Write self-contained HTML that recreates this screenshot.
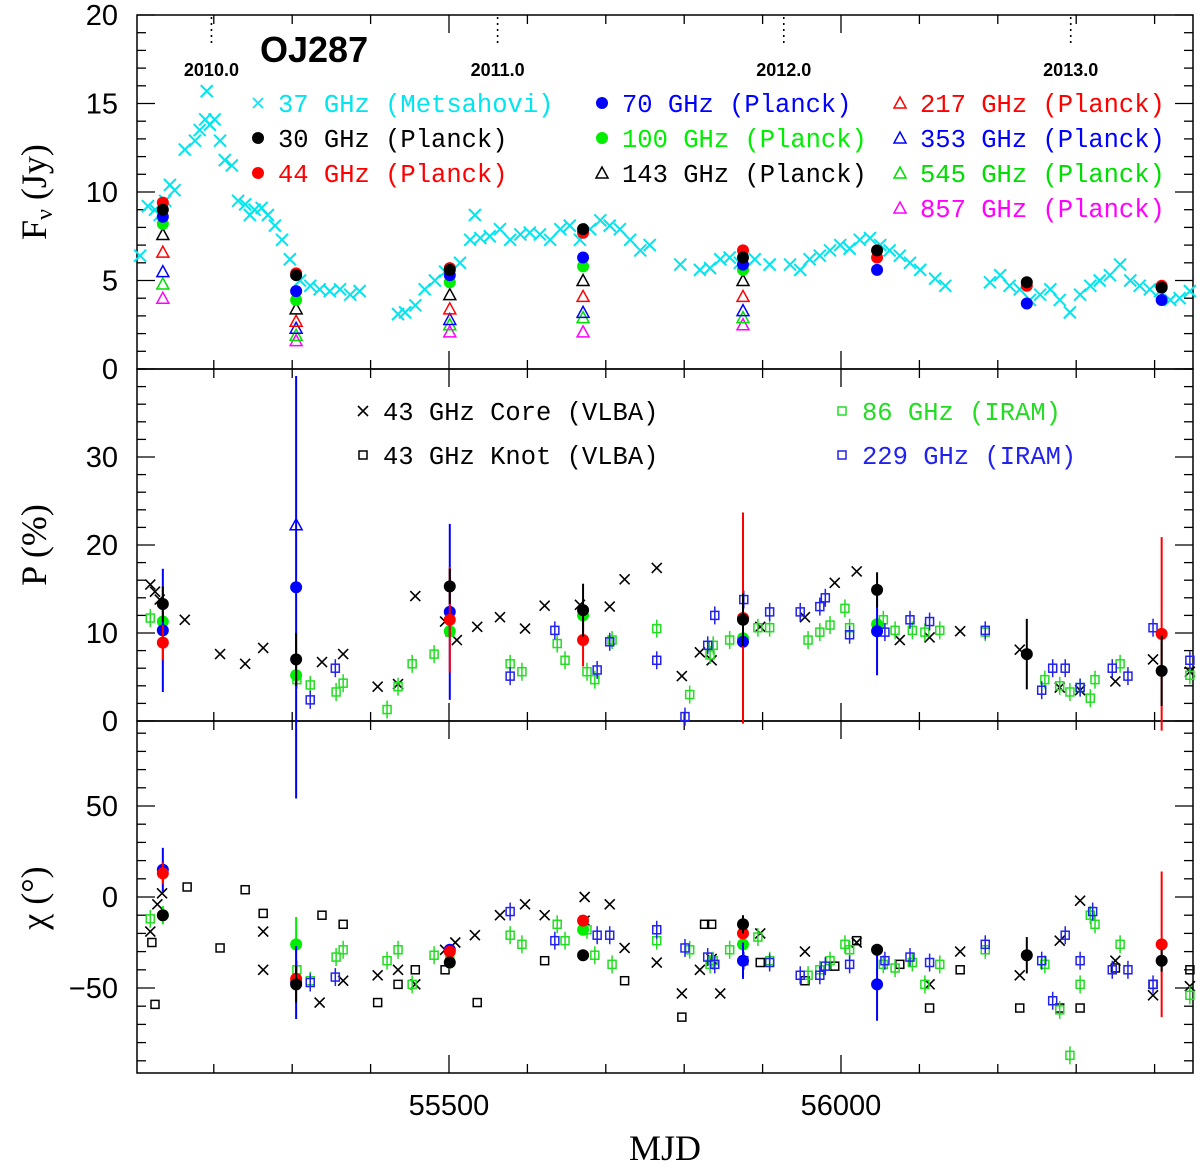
<!DOCTYPE html>
<html><head><meta charset="utf-8"><style>
html,body{margin:0;padding:0;background:#fff}
svg{display:block}
.tk{font-family:"Liberation Sans",sans-serif;font-size:29px;fill:#000}
.lg{font-family:"Liberation Mono",monospace;font-size:25.5px}
.ax{font-family:"Liberation Serif",serif;font-size:36px;fill:#000}
</style></head><body>
<svg id="chart" width="1200" height="1168" xmlns="http://www.w3.org/2000/svg"></svg>
<script>
// ---- data ----
const metsMjd=[55106,55116,55125,55131,55138,55144,55150,55163,55176,55182,55189,55191,55195,55201,55208,55214,55223,55231,55240,55246,55252,55261,55269,55278,55287,55297,55310,55323,55335,55348,55361,55374,55386,55435,55444,55457,55469,55482,55495,55514,55527,55533,55540,55552,55565,55578,55591,55603,55616,55629,55642,55654,55667,55680,55693,55705,55718,55731,55744,55756,55795,55820,55833,55846,55858,55871,55890,55909,55935,55948,55960,55973,55986,55999,56011,56024,56037,56050,56062,56075,56088,56101,56120,56133,56190,56203,56215,56228,56241,56254,56267,56279,56292,56305,56318,56330,56343,56356,56369,56381,56394,56407,56420,56432,56445];
const metsFlux=[6.4,9.2,9.0,8.7,9.5,10.4,10.1,12.4,12.9,13.5,14.1,15.7,13.8,14.1,12.9,11.8,11.5,9.5,9.3,8.7,9.0,9.1,8.7,8.1,7.3,6.2,5.0,4.7,4.5,4.4,4.5,4.2,4.4,3.1,3.2,3.6,4.5,5.0,5.5,6.0,7.3,8.7,7.4,7.5,7.9,7.3,7.6,7.7,7.6,7.3,7.9,8.1,7.3,7.9,8.4,8.1,7.9,7.3,6.7,7.0,5.9,5.6,5.7,6.2,6.3,6.0,6.2,5.9,5.9,5.6,6.2,6.4,6.7,7.0,6.8,7.3,7.4,7.0,6.7,6.4,6.0,5.6,5.1,4.7,4.9,5.3,4.7,4.5,3.9,4.2,4.5,3.9,3.2,4.2,4.7,5.0,5.3,5.9,5.0,4.7,4.5,4.4,3.9,4.0,4.4];
const epochMjd=[55135,55305,55501,55671,55875,56046,56237,56409];
const f30=[9.0,5.3,5.6,7.9,6.3,6.7,4.9,4.6];
const f44=[9.4,5.4,5.7,7.7,6.7,6.3,4.7,4.7];
const f70=[8.6,4.4,5.3,6.3,5.9,5.6,3.7,3.9];
const f100=[8.2,3.9,4.9,5.8,5.6,null,null,null];
const f143=[7.6,3.4,4.2,5.0,5.0,null,null,null];
const f217=[6.6,2.7,3.4,4.1,4.1,null,null,null];
const f353=[5.5,2.3,2.8,3.2,3.3,null,null,null];
const f545=[4.8,1.9,2.5,2.9,2.9,null,null,null];
const f857=[4.0,1.6,2.1,2.1,2.5,null,null,null];
// polarization degree
const coreMjdP=[55119,55125,55131,55163,55208,55240,55263,55338,55365,55409,55435,55457,55495,55510,55536,55565,55597,55622,55667,55705,55724,55765,55797,55820,55835,55897,55954,55992,56020,56075,56113,56152,56228,56279,56305,56350,56398,56445];
const coreP=[15.5,14.7,13.8,11.5,7.6,6.5,8.3,6.7,7.6,3.9,4.2,14.2,11.3,9.2,10.7,11.8,10.5,13.1,13.2,13.0,16.1,17.4,5.1,7.8,6.9,10.7,11.8,15.7,17.0,9.2,9.5,10.2,8.1,3.8,3.5,4.5,7.0,5.6];
const g86Mjd=[55119,55306,55323,55356,55365,55421,55435,55453,55481,55501,55578,55593,55638,55648,55676,55686,55708,55765,55807,55833,55837,55858,55894,55909,55958,55973,55986,56005,56011,56054,56069,56091,56107,56126,56184,56260,56279,56292,56305,56318,56324,56356,56445];
const g86P=[11.7,4.7,4.1,3.3,4.3,1.3,3.9,6.5,7.6,10.1,6.5,5.6,8.8,6.9,5.6,4.7,9.2,10.5,3.0,7.5,8.6,9.2,10.6,10.6,9.2,10.1,10.9,12.8,10.6,11.5,10.3,10.3,10.1,10.3,10.1,4.7,4.0,3.3,3.8,2.6,4.7,6.5,5.2];
const b229Mjd=[55323,55355,55578,55635,55689,55705,55765,55801,55830,55839,55876,55909,55948,55973,55980,56011,56056,56088,56113,56184,56256,56270,56286,56305,56346,56366,56398,56445];
const b229P=[2.4,6.0,5.1,10.3,5.8,9.0,6.9,0.5,8.6,12.0,13.8,12.4,12.4,13.0,14.0,9.8,10.1,11.5,11.3,10.3,3.5,6.0,6.0,3.8,6.0,5.1,10.6,6.9];
const p30=[13.3,7.0,15.3,12.6,11.5,14.9,7.6,5.7];
const p44=[8.9,null,11.5,9.2,11.7,null,null,9.9];
const p44e=[2,null,6,3,12,null,null,11];
const p70=[10.3,15.2,12.4,null,9.0,10.2,null,null];
const p70e=[7,24,10,null,4,5,null,null];
const p100=[11.3,5.2,10.2,12.0,9.4,11.0,null,null];
const p353tri=[null,22.3,null,null,null,null,null,null];
// polarization angle
const coreMjdX=[55119,55128,55134,55263,55263,55335,55365,55409,55435,55457,55495,55508,55533,55565,55597,55622,55673,55673,55705,55724,55765,55797,55820,55835,55846,55897,55954,56020,56113,56152,56228,56279,56305,56350,56398,56445];
const coreChi=[-19,-4,2,-40,-19,-58,-46,-43,-40,-48,-29,-25,-21,-10,-4,-10,0,-13,-4,-28,-36,-53,-40,-34,-53,-20,-30,-25,-48,-30,-43,-24,-2,-35,-54,-49];
const knotMjd=[55125,55121,55166,55208,55240,55263,55338,55365,55409,55435,55457,55495,55536,55622,55724,55797,55826,55835,55897,55954,55992,56020,56075,56113,56152,56228,56279,56305,56350,56398,56445];
const knotChi=[-59,-25,5.5,-28,4,-9,-10,-15,-58,-48,-40,-40,-58,-35,-46,-66,-15,-15,-36,-46,-38,-24,-37,-61,-40,-61,-61,-61,-39,-48,-40];
const g86Chi=[-12,-40,-46,-33,-29,-35,-29,-48,-32,-35,-21,-26,-15,-24,-18,-32,-37,-24,-29,-37,-35,-29,-22,-35,-43,-40,-35,-26,-29,-37,-39,-36,-48,-37,-29,-37,-62,-87,-48,-10,-15,-26,-54];
const g86ChiMjd=[55119,55306,55323,55356,55365,55421,55435,55453,55481,55501,55578,55593,55638,55648,55676,55686,55708,55765,55807,55833,55837,55858,55894,55909,55958,55973,55986,56005,56011,56054,56069,56091,56107,56126,56184,56260,56279,56292,56305,56318,56324,56356,56445];
const b229Chi=[-47,-44,-8,-24,-21,-21,-18,-28,-33,-37,-35,-36,-43,-43,-38,-37,-35,-33,-36,-26,-35,-57,-21,-35,-8,-40,-40,-48];
const b229ChiMjd=[55323,55355,55578,55635,55689,55705,55765,55801,55830,55839,55876,55909,55948,55973,55980,56011,56056,56088,56113,56184,56256,56270,56286,56305,56321,56346,56366,56398];
const c30=[-10,-48,-36,-32,-15,-29,-32,-35];
const c44=[13,-45,-30,-13,-20,null,null,-26];
const c44e=[6,null,null,null,null,null,null,40];
const c70=[15,-47,-29,null,-35,-48,null,null];
const c70e=[12,20,null,null,10,20,null,null];
const c100=[-10,-26,null,-18,-26,null,null,null];
const yearLabels=["2010.0","2011.0","2012.0","2013.0"];
const yearMjd=[55197,55562,55927,56293];
const xTicks=[55500,56000];

// ---- axes ----
const L=137,R=1193;
const xs=m=>449+(m-55500)*0.784;
const P1={t:15,b:369,min:0,max:20};
const P2={t:369,b:721,min:0,max:40};
const P3={t:721,b:1073};
const y1=v=>P1.b-(v-P1.min)/(P1.max-P1.min)*(P1.b-P1.t);
const y2=v=>P2.b-v*8.8;
const y3=v=>897-v*1.82;

const svg=document.getElementById('chart');
const NS='http://www.w3.org/2000/svg';
function el(tag,at,parent){const e=document.createElementNS(NS,tag);for(const k in at)e.setAttribute(k,at[k]);(parent||svg).appendChild(e);return e;}
function txt(s,x,y,cls,fill,anchor,parent){const t=el('text',{x:x,y:y,class:cls,fill:fill||'#000','text-anchor':anchor||'start'},parent);t.textContent=s;return t;}

function marker(kind,x,y,c,g,big){
  let e;const s=big?6:5;
  if(kind==='x'){e=el('path',{d:`M${x-s},${y-s}L${x+s},${y+s}M${x-s},${y+s}L${x+s},${y-s}`,stroke:c,'stroke-width':big?2:1.6,fill:'none'},g);}
  else if(kind==='circ'){e=el('circle',{cx:x,cy:y,r:6,fill:c},g);}
  else if(kind==='tri'){e=el('path',{d:`M${x},${y-6}L${x+6},${y+5}L${x-6},${y+5}Z`,stroke:c,'stroke-width':1.5,fill:'none'},g);}
  else if(kind==='sq'){e=el('rect',{x:x-4,y:y-4,width:8,height:8,stroke:c,'stroke-width':1.5,fill:'none'},g);}
  return e;
}
function series(name,mjd,vals,yf,kind,c,errs,sqErr,big){
  const g=el('g',{});
  
  
  for(let i=0;i<vals.length;i++){
    if(vals[i]===null||vals[i]===undefined)continue;
    const x=xs(mjd[i]),y=yf(vals[i]);
    if(errs&&errs[i]){el('line',{x1:x,x2:x,y1:yf(vals[i]+errs[i]),y2:yf(vals[i]-errs[i]),stroke:c,'stroke-width':2},g);}
    if(sqErr){el('line',{x1:x,x2:x,y1:y-9,y2:y+9,stroke:c,'stroke-width':1.5},g);}
    const m=marker(kind,x,y,c,g,big);
    
    
  }
}

function frame(name,p,yf,majors,minorStep,minV,maxV,labels){
  const g=el('g',{});
  
  
  el('rect',{x:L,y:p.t,width:R-L,height:p.b-p.t,fill:'none',stroke:'#000','stroke-width':1.5},g);
  for(let m=55200;m<=56400;m+=100){const x=xs(m);if(x<L||x>R)continue;const len=(m%500===0)?18:9;
    el('line',{x1:x,x2:x,y1:p.b,y2:p.b-len,stroke:'#000','stroke-width':1.3},g);
    el('line',{x1:x,x2:x,y1:p.t,y2:p.t+len,stroke:'#000','stroke-width':1.3},g);}
  for(let v=minV;v<=maxV+1e-9;v+=minorStep){const y=yf(v);if(y<p.t-1||y>p.b+1)continue;
    const maj=majors.some(m=>Math.abs(m-v)<1e-6);const len=maj?18:9;
    el('line',{x1:L,x2:L+len,y1:y,y2:y,stroke:'#000','stroke-width':1.3},g);
    el('line',{x1:R-len,x2:R,y1:y,y2:y,stroke:'#000','stroke-width':1.3},g);}
  majors.forEach((v,i)=>{const t=txt(labels[i],118,yf(v)+10,'tk','#000','end',g);
    });
}
frame('flux-panel',P1,y1,[0,5,10,15,20],1,0,20,['0','5','10','15','20']);
frame('polarization-panel',P2,y2,[0,10,20,30],2,0,40,['0','10','20','30']);
frame('angle-panel',P3,y3,[-50,0,50],10,-90,90,['\u221250','0','50']);
xTicks.forEach(m=>{const t=txt(String(m),xs(m),1115,'tk','#000','middle');
  });

yearMjd.forEach((m,i)=>{const x=xs(m);
  const l=el('line',{x1:x,x2:x,y1:17,y2:46,stroke:'#000','stroke-width':1.6,'stroke-dasharray':'2,4'});
  
  const t=el('text',{x:x,y:76,'text-anchor':'middle','font-family':'Liberation Sans,sans-serif','font-size':'18','font-weight':'bold'});
  t.textContent=yearLabels[i];});
const ttl=el('text',{x:260,y:62,'font-family':'Liberation Sans,sans-serif','font-size':'36','font-weight':'bold'});
ttl.textContent='OJ287';

function rot(s,x,y,name){const t=el('text',{x:x,y:y,class:'ax','text-anchor':'middle',transform:`rotate(-90 ${x} ${y})`});t.innerHTML=s;}
rot('F<tspan font-size="24" dy="6">\u03BD</tspan><tspan dy="-6"> (Jy)</tspan>',46,192,'y-axis-title-flux');
rot('P (%)',46,545,'y-axis-title-polarization');
rot('\u03C7 (\u00B0)',46,898,'y-axis-title-angle');
const xt=txt('MJD',665,1160,'ax','#000','middle');

series('metsahovi-37ghz',metsMjd,metsFlux,y1,'x','#00e5ee',null,false,true);
series('planck-857',epochMjd,f857,y1,'tri','#ff00ff');
series('planck-545',epochMjd,f545,y1,'tri','#00dd00');
series('planck-353',epochMjd,f353,y1,'tri','#0000ff');
series('planck-217',epochMjd,f217,y1,'tri','#ff0000');
series('planck-143',epochMjd,f143,y1,'tri','#000');
series('planck-100',epochMjd,f100,y1,'circ','#00ee00');
series('planck-70',epochMjd,f70,y1,'circ','#0000ff');
series('planck-44',epochMjd,f44,y1,'circ','#ff0000');
series('planck-30',epochMjd,f30,y1,'circ','#000');

series('core-43-p',coreMjdP,coreP,y2,'x','#000');
series('iram-86-p',g86Mjd,g86P,y2,'sq','#22dd22',null,true);
series('iram-229-p',b229Mjd,b229P,y2,'sq','#2222ee',null,true);
series('planck-100-p',epochMjd,p100,y2,'circ','#00ee00');
series('planck-70-p',epochMjd,p70,y2,'circ','#0000ff',p70e);
series('planck-353-p',epochMjd,p353tri,y2,'tri','#0000ff');
series('planck-44-p',epochMjd,p44,y2,'circ','#ff0000',p44e);
series('planck-30-p',epochMjd,p30,y2,'circ','#000',[2,3,2,3,3,2,4,4]);

series('core-43-chi',coreMjdX,coreChi,y3,'x','#000');
series('knot-43-chi',knotMjd,knotChi,y3,'sq','#000');
series('iram-86-chi',g86ChiMjd,g86Chi,y3,'sq','#22dd22',null,true);
series('iram-229-chi',b229ChiMjd,b229Chi,y3,'sq','#2222ee',null,true);
series('planck-100-chi',epochMjd,c100,y3,'circ','#00ee00',[5,15,null,null,null,null,null,null]);
series('planck-70-chi',epochMjd,c70,y3,'circ','#0000ff',c70e);
series('planck-44-chi',epochMjd,c44,y3,'circ','#ff0000',c44e);
series('planck-30-chi',epochMjd,c30,y3,'circ','#000',[null,10,null,null,5,null,10,6]);

function leg(kind,mx,my,c,label,tc){const g=el('g',{});
  
  marker(kind,mx,my,c,g);txt(label,mx+20,my+9,'lg',tc||c,'start',g);}
leg('x',258,103,'#00e5ee','37 GHz (Metsahovi)');
leg('circ',258,138,'#000','30 GHz (Planck)');
leg('circ',258,173,'#ff0000','44 GHz (Planck)');
leg('circ',602,103,'#0000ff','70 GHz (Planck)');
leg('circ',602,138,'#00ee00','100 GHz (Planck)');
leg('tri',602,173,'#000','143 GHz (Planck)');
leg('tri',900,103,'#ff0000','217 GHz (Planck)');
leg('tri',900,138,'#0000ff','353 GHz (Planck)');
leg('tri',900,173,'#00dd00','545 GHz (Planck)');
leg('tri',900,208,'#ff00ff','857 GHz (Planck)');
leg('x',363,411,'#000','43 GHz Core (VLBA)');
leg('sq',363,455,'#000','43 GHz Knot (VLBA)');
leg('sq',842,411,'#22dd22','86 GHz (IRAM)');
leg('sq',842,455,'#2222ee','229 GHz (IRAM)');
</script>
</body></html>
